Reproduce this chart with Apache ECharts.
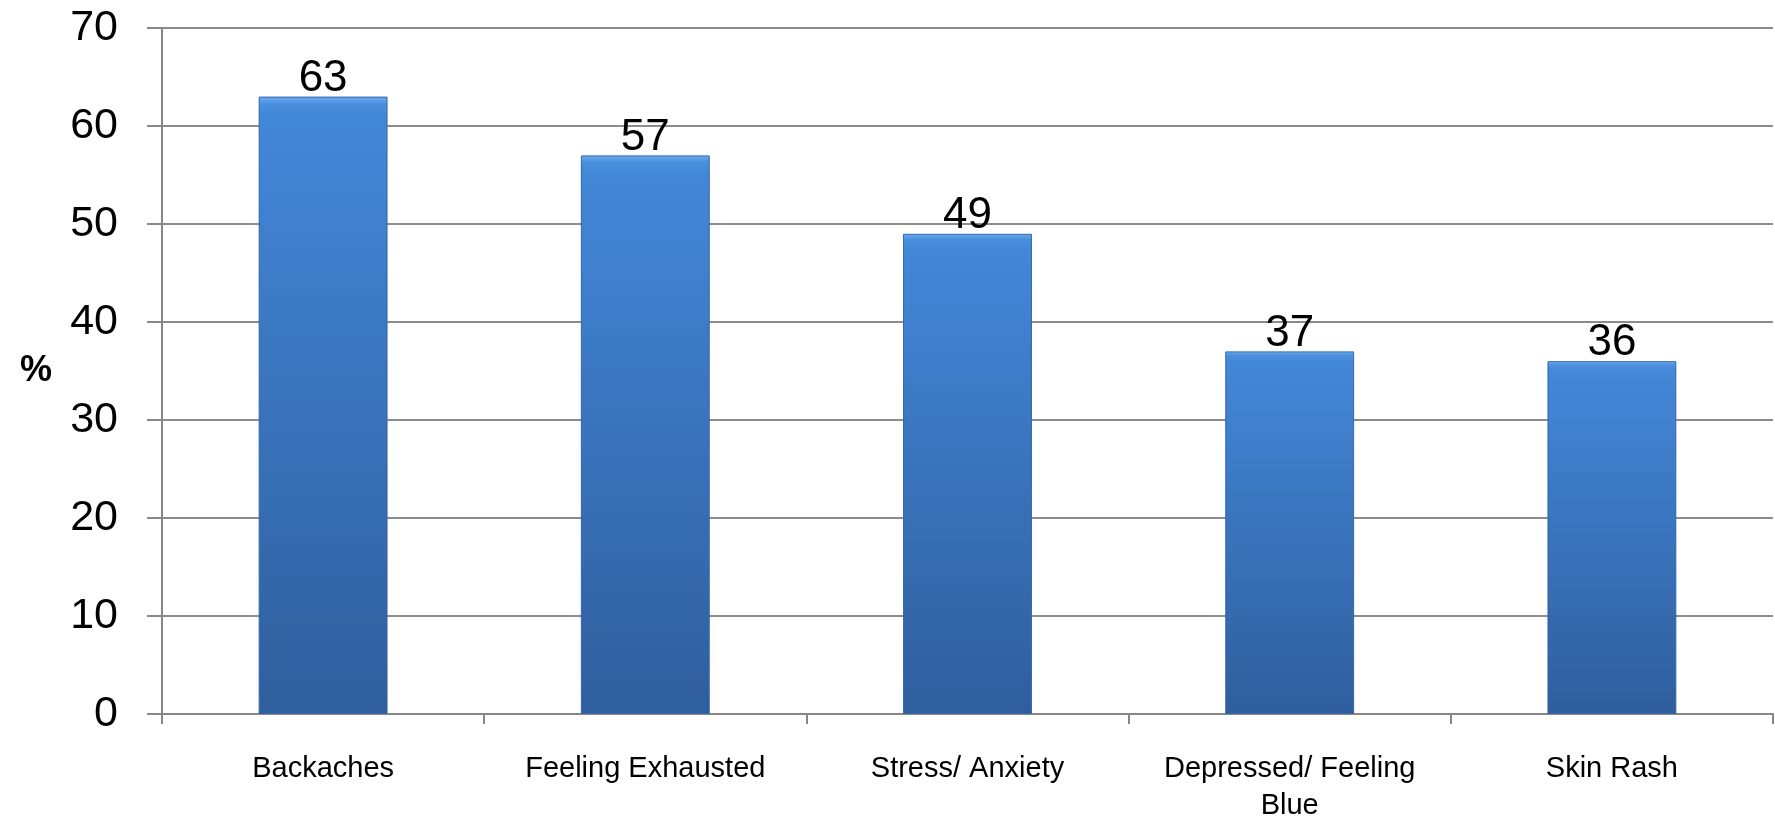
<!DOCTYPE html>
<html>
<head>
<meta charset="utf-8">
<script src="https://cdn.jsdelivr.net/npm/echarts@6/dist/echarts.min.js"></script>
<style>
  html, body { margin: 0; padding: 0; background: #fff; }
  #chart { width: 1775px; height: 824px; }
</style>
</head>
<body>
<div id="chart"></div>
<script>
// categories and percentages
const categories = ["Backaches", "Feeling Exhausted", "Stress/ Anxiety", "Depressed/ Feeling\nBlue", "Skin Rash"];
const percentValues = [63, 57, 49, 37, 36];
const yTicks = { min: 0, max: 70, interval: 10 };

const chart = echarts.init(document.getElementById("chart"), null, { renderer: "canvas" });

const font = "'Liberation Sans', Arial, sans-serif";

const option = {
  backgroundColor: "#ffffff",
  animation: false,
  grid: { left: 162, right: 2, top: 28, bottom: 101, containLabel: false },
  xAxis: {
    type: "category",
    data: categories,
    axisLine: { lineStyle: { color: "#878787", width: 2 } },
    axisTick: { show: true, length: 10, lineStyle: { color: "#878787", width: 2 } },
    axisLabel: {
      color: "#000",
      fontFamily: font,
      fontSize: 29,
      margin: 36,
      lineHeight: 37,
      interval: 0
    }
  },
  yAxis: {
    type: "value",
    min: yTicks.min,
    max: yTicks.max,
    interval: yTicks.interval,
    name: "%",
    nameLocation: "middle",
    nameRotate: 0,
    nameGap: 110,
    nameTextStyle: { color: "#000", fontFamily: font, fontSize: 36, fontWeight: "bold", padding: [32, 0, 0, 0] },
    axisLine: { show: true, lineStyle: { color: "#878787", width: 2 } },
    axisTick: { show: true, length: 15, lineStyle: { color: "#878787", width: 2 } },
    axisLabel: { color: "#000", fontFamily: font, fontSize: 43, margin: 44 },
    splitLine: { show: true, lineStyle: { color: "#8c8c8c", width: 2 } }
  },
  series: [
    {
      type: "bar",
      data: percentValues,
      barWidth: "40%",
      z: 2,
      itemStyle: {
        color: new echarts.graphic.LinearGradient(0, 0, 0, 1, [
          { offset: 0, color: "#6aaef0" },
          { offset: 0.012, color: "#4a8fdc" },
          { offset: 0.03, color: "#4387d8" },
          { offset: 1, color: "#2f5e9d" }
        ]),
        borderColor: "#3566a8",
        borderWidth: 1
      },
      label: {
        show: true,
        position: "top",
        distance: -4,
        color: "#000",
        fontFamily: font,
        fontSize: 44
      }
    }
  ]
};

chart.setOption(option);
window.addEventListener("resize", () => chart.resize());
</script>
</body>
</html>
